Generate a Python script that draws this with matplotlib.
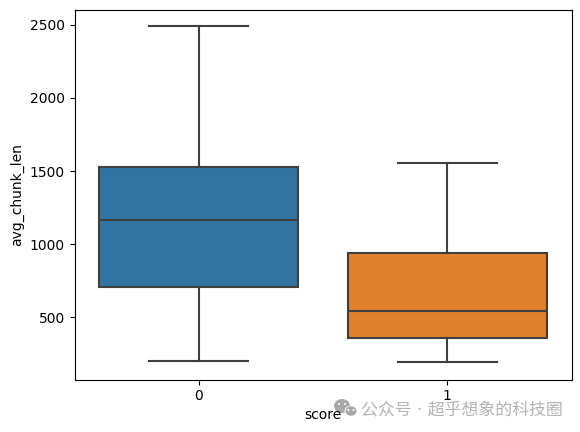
import matplotlib
matplotlib.use('Agg')
import matplotlib.pyplot as plt
from matplotlib.patches import Ellipse

# values
categories = ['0', '1']
box_colors = ['#3274a1', '#e1812c']
whisker_low = [200, 195]
q1 = [710, 360]
median = [1165, 545]
q3 = [1530, 940]
whisker_high = [2490, 1555]
y_ticks = [500, 1000, 1500, 2000, 2500]
watermark = '公众号 · 超乎想象的科技圈'

plt.rcParams['font.family'] = ['DejaVu Sans', 'Noto Sans CJK SC']

fig = plt.figure(figsize=(5.8, 4.32), dpi=100)
ax = fig.add_axes([74.5 / 580, 1 - 379.5 / 432, (571.5 - 74.5) / 580, (379.5 - 9.5) / 432])

stats = []
for i in range(len(categories)):
    stats.append({'med': median[i], 'q1': q1[i], 'q3': q3[i],
                  'whislo': whisker_low[i], 'whishi': whisker_high[i], 'fliers': []})

line_color = '#3f3f3f'
line_style = {'color': line_color, 'linewidth': 1.5}
parts = ax.bxp(stats, positions=range(len(categories)), widths=0.8, patch_artist=True,
               boxprops={'edgecolor': line_color, 'linewidth': 1.5},
               medianprops=line_style, whiskerprops=line_style, capprops=line_style)
for box, color in zip(parts['boxes'], box_colors):
    box.set_facecolor(color)

ax.set_xlim(-0.5, 1.5)
ax.set_ylim(75, 2605)
ax.set_xticks(range(len(categories)))
ax.set_xticklabels(categories)
ax.set_yticks(y_ticks)
ax.tick_params(labelsize=10)
ax.set_ylabel('avg_chunk_len', fontsize=10)

fig.text(323 / 580, 1 - 415 / 432, 'score', ha='center', va='center', fontsize=10)

# watermark
fig.text(361 / 580, 1 - 409.5 / 432, watermark, ha='left', va='center', fontsize=12.2,
         color='#b4b4b4')


def bubble(x, y, w, h, color):
    fig.add_artist(Ellipse((x / 580, 1 - y / 432), w / 580, h / 432,
                           transform=fig.transFigure, color=color, lw=0))


# wechat icon, two bubbles with eyes
bubble(342, 406, 16, 14, '#a8a8a8')
bubble(351, 411, 13, 11, '#ffffff')
bubble(351, 411, 11, 9.5, '#a8a8a8')
for eye_x, eye_y in [(339, 404), (345, 404), (348.5, 410), (353.5, 410)]:
    bubble(eye_x, eye_y, 2, 2, '#ffffff')

fig.savefig('out.png', dpi=100)
